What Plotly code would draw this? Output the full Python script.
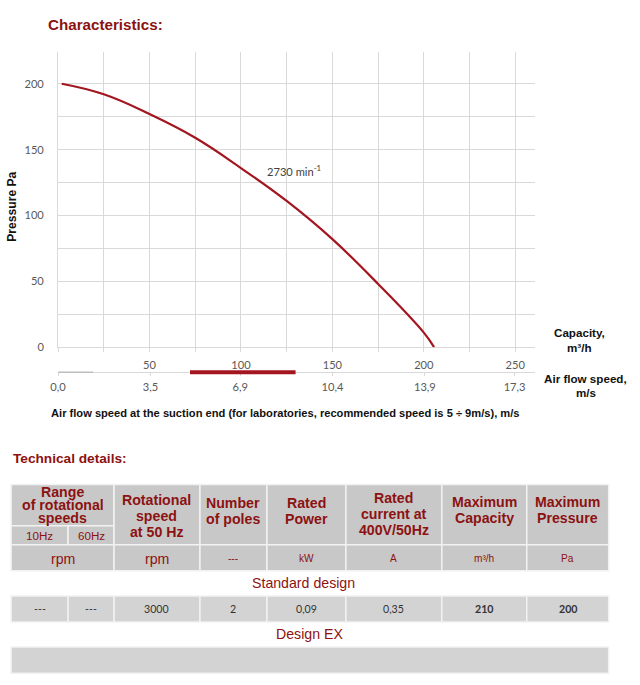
import plotly.graph_objects as go

# Figure size and the mapping from reference pixels to figure paper fractions
# (the page places the figure 8px from the left, and the photo is ~0.988 scaled).
SCALE = 0.988
OFFX = 8
W, H = 632, 685

# ---------------- data ----------------
capacity = [2, 25, 50, 75, 100, 125, 150, 175, 200, 205.6]      # m3/h
pressure = [200, 192, 177, 159, 136, 111, 82, 48, 11, 0]        # Pa
curve_label = "2730 min<sup>-1</sup>"
curve_label_at = [113, 134]   # capacity, pressure

cap_ticks = [50, 100, 150, 200, 250]
cap_grid = [0, 25, 50, 75, 100, 125, 150, 175, 200, 225, 250]
p_ticks = [0, 50, 100, 150, 200]
p_grid = [0, 25, 50, 75, 100, 125, 150, 175, 200]

speed_ticks = [0.0, 3.5, 6.9, 10.4, 13.9, 17.3]
speed_ticktext = ["0,0", "3,5", "6,9", "10,4", "13,9", "17,3"]
speed_per_capacity = 0.0693
recommended_speed = [5, 9]
low_speed_band = [0, 1.33]

# table
range_header = ["Range", "of rotational", "speeds"]
range_sub = ["10Hz", "60Hz"]
headers = [
    ["Rotational", "speed", "at 50 Hz"],
    ["Number", "of poles"],
    ["Rated", "Power"],
    ["Rated", "current at", "400V/50Hz"],
    ["Maximum", "Capacity"],
    ["Maximum", "Pressure"],
]
units_main = ["rpm", "rpm"]
units_small = ["---", "kW", "A", "m³/h", "Pa"]
section_std = "Standard design"
section_ex = "Design EX"
std_row = ["---", "---", "3000", "2", "0,09", "0,35", "210", "200"]
std_bold = [False, False, False, False, False, False, True, True]

# ---------------- layout helpers (reference pixel -> paper fraction) ----------------
def px(x):
    return (x / SCALE - OFFX) / W

def py(y):
    return 1 - (y / SCALE) / H

def fs(s):
    return s / SCALE

RED = "#8c1212"
CURVE = "#a3151f"
GRID = "#d9d9d9"
TICK = "#595959"
ARIAL = "Liberation Sans, Arial, sans-serif"
CAL = "Lato, Carlito, Calibri, sans-serif"

X0, X1 = 58, 535
Y0, Y1 = 346, 52
cap_max = (X1 - X0) / 1.83

fig = go.Figure()
fig.add_trace(go.Scatter(x=capacity, y=pressure, mode="lines",
                         line=dict(color=CURVE, width=2.2, shape="spline", smoothing=1.2),
                         hoverinfo="skip"))
fig.add_trace(go.Scatter(x=low_speed_band, y=[0, 0], mode="lines", xaxis="x2", yaxis="y2",
                         line=dict(color="#bdbdbd", width=1.5), hoverinfo="skip"))
fig.add_trace(go.Scatter(x=recommended_speed, y=[0, 0], mode="lines", xaxis="x2", yaxis="y2",
                         line=dict(color=CURVE, width=4), hoverinfo="skip"))

annotations = []
shapes = []

def ann(x, y, text, size, color=RED, family=ARIAL, bold=False, xanchor="center"):
    annotations.append(dict(xref="paper", yref="paper", x=px(x), y=py(y), text=text,
                            showarrow=False, xanchor=xanchor, yanchor="middle",
                            font=dict(size=fs(size), color=color, family=family,
                                      weight="bold" if bold else "normal")))

# titles
ann(46, 24, "Characteristics:", 15, RED, bold=True, xanchor="left")
ann(11, 457, "Technical details:", 13.5, RED, bold=True, xanchor="left")

# axis labels
annotations.append(dict(xref="paper", yref="paper", x=px(12), y=py(206), text="Pressure Pa",
                        showarrow=False, textangle=-90, xanchor="center", yanchor="middle",
                        font=dict(size=fs(12), color="#111111", family=ARIAL, weight="bold")))
ann(580, 331, "Capacity,", 11.5, "#111111", bold=True)
ann(580, 346, "m³/h", 11.5, "#111111", bold=True)
ann(586, 377, "Air flow speed,", 11.5, "#111111", bold=True)
ann(586, 391, "m/s", 11.5, "#111111", bold=True)
ann(49, 412, "Air flow speed at the suction end (for laboratories, recommended speed is 5 ÷ 9m/s), m/s",
    11, "#111111", bold=True, xanchor="left")

# curve label
annotations.append(dict(xref="x", yref="y", x=curve_label_at[0], y=curve_label_at[1],
                        text=curve_label, showarrow=False, xanchor="left", yanchor="middle",
                        font=dict(size=fs(11), color="#404040", family=CAL)))

# ---------------- table ----------------
cols = [11, 68, 114, 200, 267, 346, 442, 527, 609]
HEAD_FILL = "#c8c8c8"
ROW_FILL = "#d3d3d3"
BORDER = "#f2f2f2"

def cell(x0, x1, y0, y1, fill):
    shapes.append(dict(type="rect", xref="paper", yref="paper",
                       x0=px(x0), x1=px(x1), y0=py(y1), y1=py(y0),
                       fillcolor=fill, line=dict(color=BORDER, width=1.5), layer="below"))

# header row
cell(cols[0], cols[2], 483, 524, HEAD_FILL)
cell(cols[0], cols[1], 524, 543, HEAD_FILL)
cell(cols[1], cols[2], 524, 543, HEAD_FILL)
for i in range(2, 8):
    cell(cols[i], cols[i + 1], 483, 543, HEAD_FILL)
# units row
cell(cols[0], cols[2], 543, 569, HEAD_FILL)
for i in range(2, 8):
    cell(cols[i], cols[i + 1], 543, 569, HEAD_FILL)
# data row
for i in range(8):
    cell(cols[i], cols[i + 1], 594, 620, ROW_FILL)
# design EX row
cell(cols[0], cols[8], 645, 671, ROW_FILL)

# header texts
for j, line in enumerate(range_header):
    ann((cols[0] + cols[2]) / 2, 490 + j * 13, line, 14, RED, bold=True)
ann((cols[0] + cols[1]) / 2, 534, range_sub[0], 11.5, RED)
ann((cols[1] + cols[2]) / 2, 534, range_sub[1], 11.5, RED)
head_start = [498, 501, 501, 496, 500, 500]
for k, lines in enumerate(headers):
    cx = (cols[k + 2] + cols[k + 3]) / 2
    for j, line in enumerate(lines):
        ann(cx, head_start[k] + j * 16, line, 14, RED, bold=True)

# units
ann((cols[0] + cols[2]) / 2, 557, units_main[0], 14, RED)
ann((cols[2] + cols[3]) / 2, 557, units_main[1], 14, RED)
for k, u in enumerate(units_small):
    ann((cols[k + 3] + cols[k + 4]) / 2, 557, u, 10, RED)

# sections
ann(304, 581, section_std, 14, RED)
ann(310, 632, section_ex, 14, RED)

# data row
for i, v in enumerate(std_row):
    ann((cols[i] + cols[i + 1]) / 2, 607, v, 10.5, "#333333", family=CAL, bold=std_bold[i])

fig.update_layout(
    width=W, height=H, autosize=False,
    margin=dict(l=0, r=0, t=0, b=0, pad=0),
    paper_bgcolor="white", plot_bgcolor="white",
    showlegend=False,
    xaxis=dict(domain=[px(X0), px(X1)], range=[0, cap_max], tickmode="array",
               tickvals=cap_ticks, showgrid=True, gridcolor=GRID,
               gridwidth=1, zeroline=False, showline=True, linecolor=GRID, linewidth=1,
               ticks="outside", ticklen=4, tickcolor=GRID, ticklabelstandoff=4,
               layer="below traces",
               minor=dict(tickvals=cap_grid, showgrid=True, gridcolor=GRID, gridwidth=1,
                          ticks="outside", ticklen=4, tickcolor=GRID),
               tickfont=dict(size=fs(11), color=TICK, family=CAL), fixedrange=True),
    yaxis=dict(domain=[py(Y0), py(Y1)], range=[0, 224], tickmode="array",
               tickvals=p_ticks, showgrid=True, gridcolor=GRID,
               gridwidth=1, zeroline=False, showline=True, linecolor=GRID, linewidth=1,
               ticks="", ticklabelstandoff=11, layer="below traces",
               minor=dict(tickvals=p_grid, showgrid=True, gridcolor=GRID, gridwidth=1),
               tickfont=dict(size=fs(11), color=TICK, family=CAL), fixedrange=True),
    xaxis2=dict(domain=[px(X0), px(X1)], anchor="free", position=py(371),
                range=[0, cap_max * speed_per_capacity], tickmode="array",
                tickvals=speed_ticks, ticktext=speed_ticktext, showgrid=False,
                zeroline=False, showline=True, linecolor=GRID, linewidth=1,
                ticks="outside", ticklen=3, tickcolor=GRID, ticklabelstandoff=1,
                layer="below traces",
                tickfont=dict(size=fs(11), color=TICK, family=CAL), fixedrange=True),
    yaxis2=dict(domain=[py(381), py(361)], range=[-1, 1], anchor="x2", visible=False,
                fixedrange=True),
    annotations=annotations,
    shapes=shapes,
)

fig.write_html("out.html", config={"displayModeBar": False})
